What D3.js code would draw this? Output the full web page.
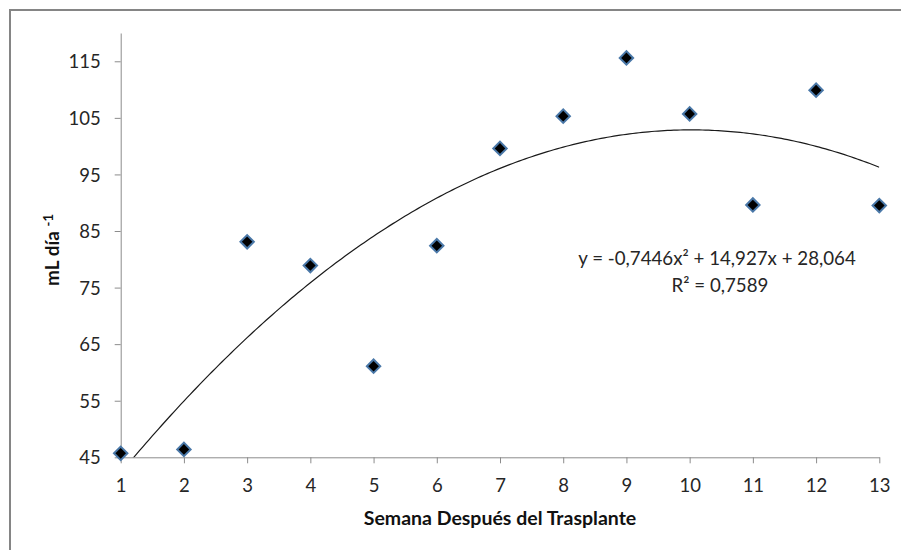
<!DOCTYPE html>
<html>
<head>
<meta charset="utf-8">
<script src="https://cdn.jsdelivr.net/npm/d3@7"></script>
<style>
  body { margin: 0; background: #fff; }
  svg { display: block; font-family: Lato, "Open Sans", sans-serif; }
</style>
</head>
<body>
<svg></svg>
<script>
var width = 901;
var height = 550;

// semanas y mL por día
var weeks = [1, 2, 3, 4, 5, 6, 7, 8, 9, 10, 11, 12, 13];
var mlDay = [45.7, 46.4, 83.1, 78.9, 61.1, 82.4, 99.6, 105.3, 115.6, 105.7, 89.6, 109.9, 89.5];
var yTicks = [45, 55, 65, 75, 85, 95, 105, 115];
// coeficientes de la línea de tendencia: c0 + c1*x + c2*x^2
var trendCoef = [28.064, 14.927, -0.7446];
var equationText = "y = -0,7446x\u00B2 + 14,927x + 28,064";
var r2Text = "R\u00B2 = 0,7589";

var data = weeks.map((w, i) => ({ week: w, value: mlDay[i] }));

var xScale = d3.scaleLinear()
    .domain([1, 13])
    .range([120.7, 879.3]);

var yScale = d3.scaleLinear()
    .domain([45, 120])
    .range([457.3, 33]);

var svg = d3.select("svg")
    .attr("width", width)
    .attr("height", height);

// marco del gráfico
svg.append("rect")
    .attr("x", 10)
    .attr("y", 10)
    .attr("width", 920)
    .attr("height", 580)
    .attr("fill", "none")
    .attr("stroke", "#858585")
    .attr("stroke-width", 2);

var xAxis = d3.axisBottom(xScale)
    .tickValues(weeks)
    .tickSize(6)
    .tickSizeOuter(0)
    .tickPadding(16);

var yAxis = d3.axisLeft(yScale)
    .tickValues(yTicks)
    .tickSize(6)
    .tickSizeOuter(0)
    .tickPadding(14);

var gx = svg.append("g")
    .attr("transform", "translate(0," + yScale(45) + ")")
    .call(xAxis);

var gy = svg.append("g")
    .attr("transform", "translate(" + xScale(1) + ",0)")
    .call(yAxis);

[gx, gy].forEach(g => {
    g.select(".domain").attr("stroke", "#8c8c8c");
    g.selectAll(".tick line").attr("stroke", "#8c8c8c");
    g.selectAll(".tick text")
        .attr("fill", "#262626")
        .style("font-size", "18.5px")
        .style("font-family", "Lato, sans-serif");
});
gy.selectAll(".tick text").attr("dy", "0.36em");

// línea de tendencia polinómica
svg.append("clipPath")
    .attr("id", "plot-clip")
    .append("rect")
    .attr("x", xScale(1))
    .attr("y", yScale(120))
    .attr("width", xScale(13) - xScale(1))
    .attr("height", yScale(45) - yScale(120));

var trendX = d3.range(1, 13.001, 0.05);
var trendLine = d3.line()
    .x(x => xScale(x))
    .y(x => yScale(trendCoef[0] + trendCoef[1] * x + trendCoef[2] * x * x));

svg.append("path")
    .datum(trendX)
    .attr("clip-path", "url(#plot-clip)")
    .attr("d", trendLine)
    .attr("fill", "none")
    .attr("stroke", "#1a1a1a")
    .attr("stroke-width", 1.2);

// puntos
svg.selectAll("path.pt")
    .data(data)
    .enter()
    .append("path")
        .attr("class", "pt")
        .attr("d", d3.symbol().type(d3.symbolSquare).size(90))
        .attr("transform", d => "translate(" + xScale(d.week) + "," + yScale(d.value) + ") rotate(45)")
        .attr("fill", "#000")
        .attr("stroke", "#4a78a8")
        .attr("stroke-width", 2);

// ecuación
svg.append("text")
    .attr("x", 717)
    .attr("y", 265)
    .attr("text-anchor", "middle")
    .style("font-size", "18.7px")
    .attr("fill", "#262626")
    .text(equationText);

svg.append("text")
    .attr("x", 720)
    .attr("y", 292)
    .attr("text-anchor", "middle")
    .style("font-size", "18.7px")
    .attr("fill", "#262626")
    .text(r2Text);

// título eje x
svg.append("text")
    .attr("x", 500)
    .attr("y", 525)
    .attr("text-anchor", "middle")
    .style("font-size", "19.5px")
    .style("font-weight", "bold")
    .attr("fill", "#111")
    .text("Semana Después del Trasplante");

// título eje y
var yTitle = svg.append("text")
    .attr("transform", "translate(59,250) rotate(-90)")
    .attr("text-anchor", "middle")
    .style("font-size", "19px")
    .style("font-weight", "bold")
    .attr("fill", "#111");
yTitle.append("tspan").text("mL día ");
yTitle.append("tspan")
    .attr("dy", "-0.5em")
    .style("font-size", "13px")
    .text("-1");
</script>
</body>
</html>
